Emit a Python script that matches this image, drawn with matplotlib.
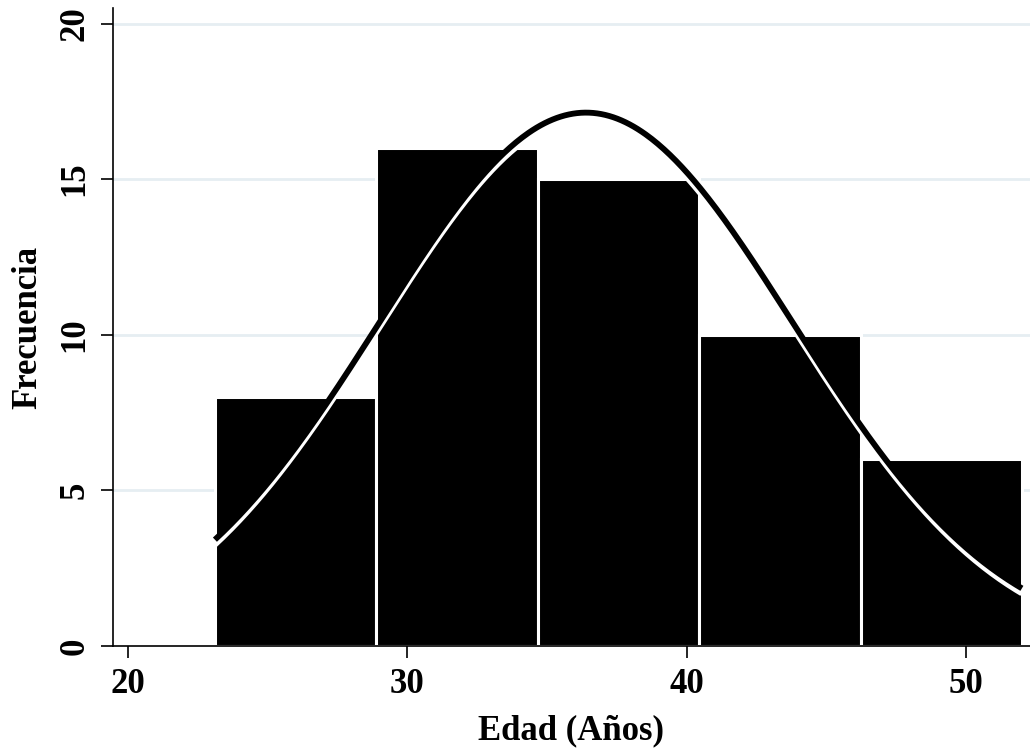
import numpy as np
import matplotlib
matplotlib.use('Agg')
import matplotlib.pyplot as plt
import matplotlib.patheffects as pe

# histogram of ages
bin_start = 23.11
bin_width = 5.78
counts = [8, 16, 15, 10, 6]
# normal curve parameters of the fit
mean_age = 36.4
sd_age = 7.4
x_ticks = [20, 30, 40, 50]
y_ticks = [0, 5, 10, 15, 20]

plt.rcParams['font.family'] = ['Liberation Serif', 'DejaVu Serif']
plt.rcParams['font.weight'] = 'bold'

fig = plt.figure(figsize=(10.3, 7.52), dpi=100)
ax = fig.add_axes([113/1030, 106/752, 1 - 113/1030, (646 - 8)/752])

edges = bin_start + bin_width*np.arange(len(counts) + 1)
ax.bar(edges[:-1], counts, width=bin_width, align='edge', color='black',
       edgecolor='white', linewidth=2.2, zorder=2)

n = sum(counts)
xs = np.linspace(edges[0], edges[-1], 400)
ys = n*bin_width/(sd_age*np.sqrt(2*np.pi))*np.exp(-0.5*((xs - mean_age)/sd_age)**2)
ax.plot(xs, ys, color='black', lw=4.2, zorder=3, solid_capstyle='butt',
        path_effects=[pe.SimpleLineShadow(offset=(0, -3.6), shadow_color='white', alpha=1),
                      pe.Normal()])

for v in y_ticks[1:]:
    ax.axhline(v, color='#e6eef2', lw=2, zorder=1)

ax.set_xlim(19.46, 52.3)
ax.set_ylim(0, 20.5)
ax.set_xticks(x_ticks)
ax.set_yticks(y_ticks)
ax.set_yticklabels([str(v) for v in y_ticks], rotation=90, va='center')
ax.tick_params(labelsize=25, length=8.5, width=1.2, pad=7)
for s in ['top', 'right']:
    ax.spines[s].set_visible(False)
for s in ['left', 'bottom']:
    ax.spines[s].set_linewidth(1.2)

ax.set_xlabel('Edad (Años)', fontsize=25, fontweight='bold', labelpad=10)
ax.set_ylabel('Frecuencia', fontsize=25, fontweight='bold', labelpad=10)

fig.savefig('out.png', dpi=100)
